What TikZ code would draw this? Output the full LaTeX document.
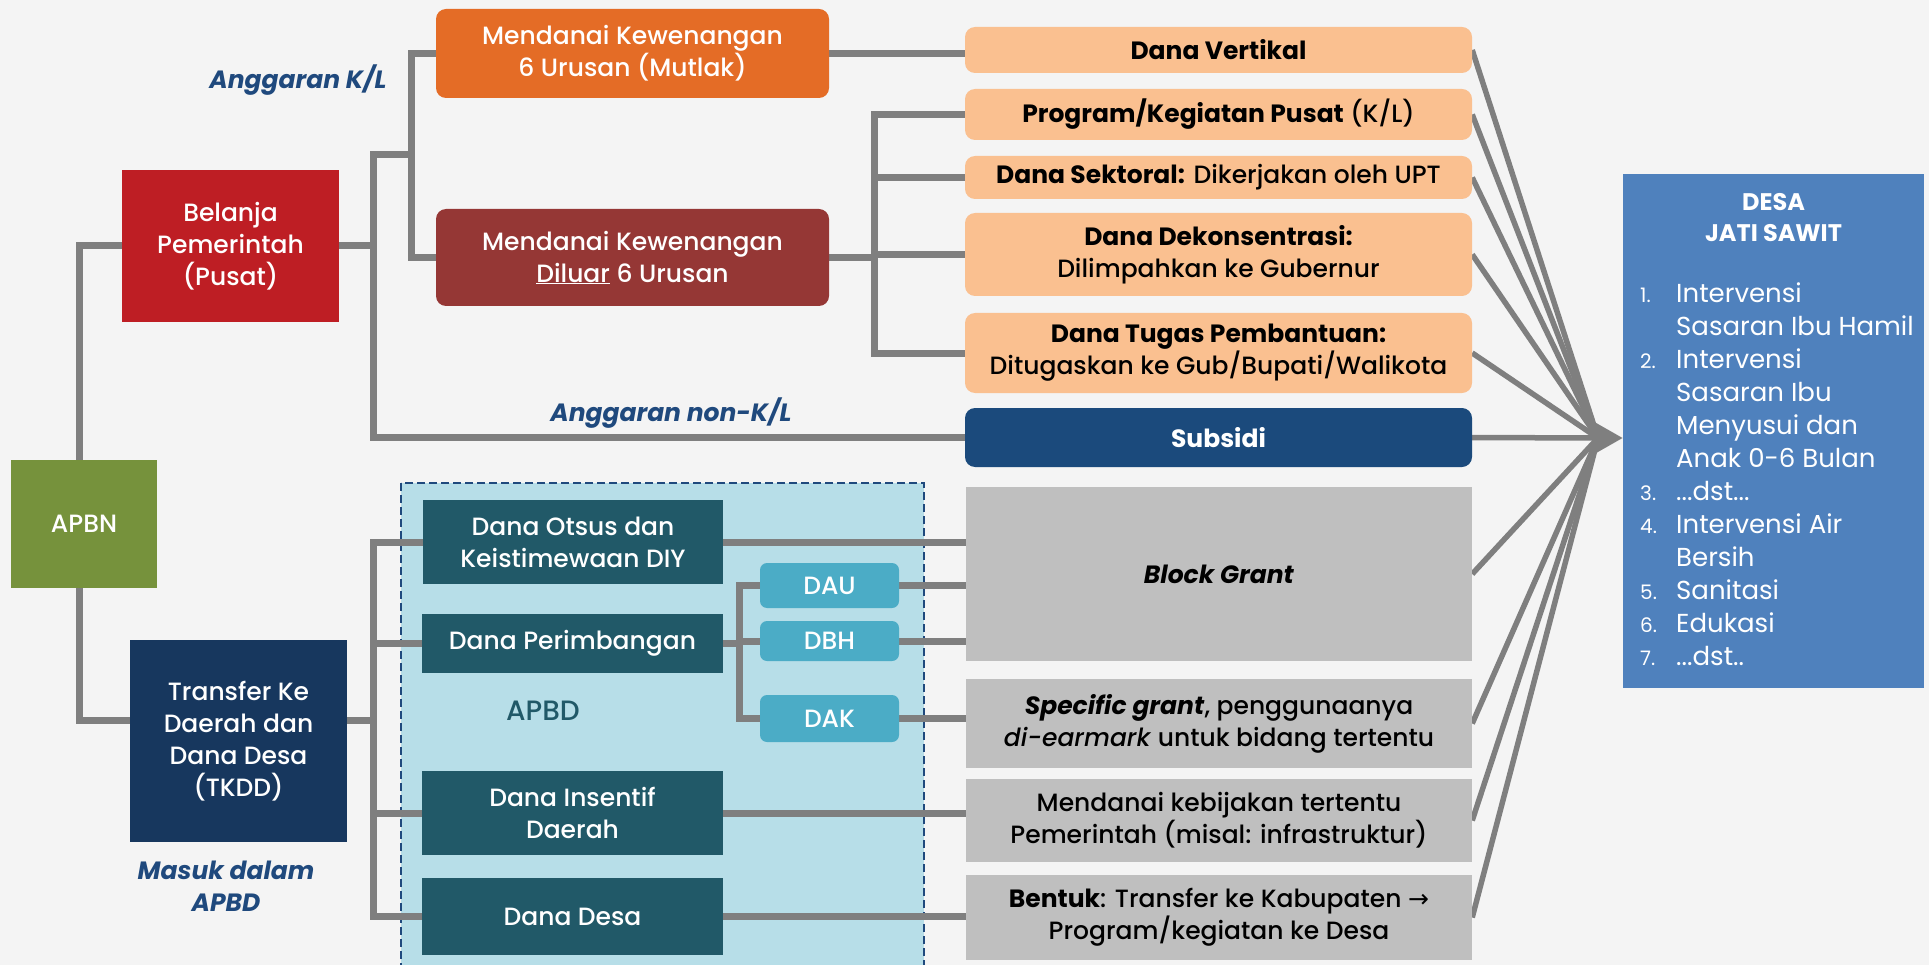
\documentclass[tikz,border=0pt]{standalone}
\usepackage{fontspec}
\setmainfont{Poppins}[UprightFont=* Medium, ItalicFont=* Medium Italic, BoldFont=* Bold, BoldItalicFont=* Bold Italic]
\newfontfamily\lightfont{Poppins}
\newfontfamily\symfont{DejaVu Sans}
\usetikzlibrary{arrows.meta}
\definecolor{cbg}{HTML}{F4F4F4}
\definecolor{cgreen}{HTML}{76923C}
\definecolor{cred}{HTML}{BE1E24}
\definecolor{cnavy}{HTML}{17375E}
\definecolor{corange}{HTML}{E46C26}
\definecolor{cbrick}{HTML}{953735}
\definecolor{cpeach}{HTML}{FAC090}
\definecolor{csub}{HTML}{1B4A7C}
\definecolor{cgray}{HTML}{BFBFBF}
\definecolor{cdesa}{HTML}{4F81BD}
\definecolor{cregion}{HTML}{B7DEE8}
\definecolor{cteal}{HTML}{215968}
\definecolor{ccyan}{HTML}{4BACC6}
\definecolor{cline}{HTML}{7F7F7F}
\definecolor{clabel}{HTML}{1F497D}
\newcommand\boxfont{\fontsize{25}{32}\selectfont}
\newcommand\listfont{\lightfont\fontsize{26}{33}\selectfont}
\pgfdeclarelayer{back}
\pgfdeclarelayer{edges}
\pgfsetlayers{back,edges,main}
\begin{document}
\begin{tikzpicture}[x=1pt,y=-1pt,
  box/.style={draw=none, align=center, inner sep=0pt, font=\boxfont},
  dark/.style={box, text=white},
  rbox/.style={box, rounded corners=10pt},
  tree/.style={draw=cline, line width=7pt, line cap=rect, line join=miter},
  conv/.style={draw=cline, line width=5.5pt},
  lbl/.style={font=\fontsize{25}{32}\selectfont\bfseries\itshape, text=clabel, align=center, inner sep=0pt}]
\useasboundingbox (0,0) rectangle (1929,965);
\begin{pgfonlayer}{back}
  \fill[cbg] (0,0) rectangle (1929,965);
  \draw[fill=cregion, draw=clabel, line width=1.5pt, dash pattern=on 8pt off 4pt] (401,483) rectangle (924,980);
\end{pgfonlayer}
% left column
\node[dark, fill=cgreen, minimum width=146pt, minimum height=128pt] (apbn) at (84,524) {APBN};
\node[dark, fill=cred, minimum width=217pt, minimum height=152pt] (belanja) at (230.5,246) {Belanja\\Pemerintah\\(Pusat)};
\node[dark, fill=cnavy, minimum width=217pt, minimum height=202pt] (tkdd) at (238.5,741) {Transfer Ke\\Daerah dan\\Dana Desa\\(TKDD)};
\node[lbl] (lblkl) at (298,80) {Anggaran K/L};
\node[lbl] (lblnkl) at (671,413) {Anggaran non-K/L};
\node[lbl] (lblmasuk) at (226,886) {Masuk dalam\\APBD};
% upper middle
\node[dark, rbox, fill=corange, minimum width=393pt, minimum height=89pt] (mutlak) at (632.5,53.5) {Mendanai Kewenangan\\6 Urusan (Mutlak)};
\node[dark, rbox, fill=cbrick, minimum width=393pt, minimum height=97pt] (diluar) at (632.5,257.5) {Mendanai Kewenangan\\\underline{Diluar} 6 Urusan};
% peach column
\node[box, rbox, fill=cpeach, minimum width=507pt, minimum height=46pt] (vert) at (1218.5,50) {\textbf{Dana Vertikal}};
\node[box, rbox, fill=cpeach, minimum width=507pt, minimum height=51pt] (prog) at (1218.5,114.5) {\textbf{Program/Kegiatan Pusat} (K/L)};
\node[box, rbox, fill=cpeach, minimum width=507pt, minimum height=43pt] (sekt) at (1218.5,177.5) {\textbf{Dana Sektoral:} Dikerjakan oleh UPT};
\node[box, rbox, fill=cpeach, minimum width=507pt, minimum height=83pt] (dekon) at (1218.5,254.5) {\textbf{Dana Dekonsentrasi:}\\Dilimpahkan ke Gubernur};
\node[box, rbox, fill=cpeach, minimum width=507pt, minimum height=80pt] (tugas) at (1218.5,353) {\textbf{Dana Tugas Pembantuan:}\\Ditugaskan ke Gub/Bupati/Walikota};
\node[dark, rbox, fill=csub, minimum width=507pt, minimum height=59pt] (subsidi) at (1218.5,437.5) {\textbf{Subsidi}};
% gray column
\node[box, fill=cgray, minimum width=506pt, minimum height=174pt] (block) at (1219,574) {\textbf{\textit{Block Grant}}};
\node[box, fill=cgray, minimum width=506pt, minimum height=89pt] (spec) at (1219,723.5) {\textbf{\textit{Specific grant}}, penggunaanya\\\textit{di-earmark} untuk bidang tertentu};
\node[box, fill=cgray, minimum width=506pt, minimum height=83pt] (kebij) at (1219,820.5) {Mendanai kebijakan tertentu\\Pemerintah (misal: infrastruktur)};
\node[box, fill=cgray, minimum width=506pt, minimum height=85pt] (bentuk) at (1219,917.5) {\textbf{Bentuk}: Transfer ke Kabupaten {\symfont →}\\Program/kegiatan ke Desa};
% APBD region
\node[dark, fill=cteal, minimum width=300pt, minimum height=84pt] (otsus) at (573,542) {Dana Otsus dan\\Keistimewaan DIY};
\node[dark, fill=cteal, minimum width=301pt, minimum height=59pt] (perim) at (572.5,643.5) {Dana Perimbangan};
\node[dark, fill=cteal, minimum width=301pt, minimum height=84pt] (insent) at (572.5,813) {Dana Insentif\\Daerah};
\node[dark, fill=cteal, minimum width=301pt, minimum height=77pt] (ddesa) at (572.5,916.5) {Dana Desa};
\node[box, text=cteal, font=\fontsize{28}{32}\selectfont] (apbd) at (543,711) {APBD};
\node[dark, rbox, rounded corners=7pt, fill=ccyan, minimum width=139pt, minimum height=45pt] (dau) at (829.5,585.5) {DAU};
\node[dark, rbox, rounded corners=7pt, fill=ccyan, minimum width=139pt, minimum height=40pt] (dbh) at (829.5,641) {DBH};
\node[dark, rbox, rounded corners=7pt, fill=ccyan, minimum width=139pt, minimum height=47pt] (dak) at (829.5,718.5) {DAK};
% DESA
\node[box, fill=cdesa, minimum width=301pt, minimum height=514pt] (desa) at (1773.5,431) {};
\node[box, text=white, font=\fontsize{24}{31}\selectfont\bfseries] (desatitle) at (1773.5,218) {DESA\\JATI SAWIT};
\node[anchor=north west, align=left, inner sep=0pt, text=white, font=\listfont] (desalist) at (1640,283)
 {\makebox[36pt][l]{\fontsize{20}{33}\selectfont 1.}Intervensi\\
  \hspace*{36pt}Sasaran Ibu Hamil\\
  \makebox[36pt][l]{\fontsize{20}{33}\selectfont 2.}Intervensi\\
  \hspace*{36pt}Sasaran Ibu\\
  \hspace*{36pt}Menyusui dan\\
  \hspace*{36pt}Anak 0-6 Bulan\\
  \makebox[36pt][l]{\fontsize{20}{33}\selectfont 3.}...dst...\\
  \makebox[36pt][l]{\fontsize{20}{33}\selectfont 4.}Intervensi Air\\
  \hspace*{36pt}Bersih\\
  \makebox[36pt][l]{\fontsize{20}{33}\selectfont 5.}Sanitasi\\
  \makebox[36pt][l]{\fontsize{20}{33}\selectfont 6.}Edukasi\\
  \makebox[36pt][l]{\fontsize{20}{33}\selectfont 7.}...dst..};
% coordinates
\coordinate (bTop) at (373,155);
\coordinate (bMid) at (373,246);
\coordinate (bBot) at (373,437.5);
\coordinate (kl) at (411,155);
\coordinate (dTop) at (874,114.5);
\coordinate (dBot) at (874,353);
\coordinate (tMid) at (373,720);
\coordinate (tTop) at (373,542);
\coordinate (tBot) at (373,916.5);
\coordinate (pTop) at (739,585.5);
\coordinate (pBot) at (739,718.5);
\coordinate (conv) at (1598,438);
\begin{pgfonlayer}{edges}
  \draw[tree] ([xshift=-5pt]apbn.north) |- (belanja.west);
  \draw[tree] ([xshift=-5pt]apbn.south) |- (tMid -| tkdd.west);
  \draw[tree] (belanja.east) -- (bMid);
  \draw[tree] (bTop) -- (bBot) -- (subsidi.west);
  \draw[tree] (bTop) -- (kl);
  \draw[tree] (mutlak.west) -| (kl) |- (diluar.west);
  \draw[tree] (mutlak.east) -- (mutlak.east -| vert.west);
  \draw[tree] (diluar.east) -- (diluar.east -| dTop);
  \draw[tree] (prog.west) -- (dTop) -- (dBot) -- (tugas.west);
  \draw[tree] (sekt.west) -- (sekt.west -| dTop);
  \draw[tree] (dekon.west) -- (dekon.west -| dTop);
  \draw[tree] (tkdd.east |- tMid) -- (tMid);
  \draw[tree] (otsus.west) -- (tTop) -- (tBot) -- (ddesa.west);
  \draw[tree] (perim.west) -- (perim.west -| tTop);
  \draw[tree] (insent.west) -- (insent.west -| tTop);
  \draw[tree] (perim.east) -- (perim.east -| pTop);
  \draw[tree] (dau.west) -- (pTop) -- (pBot) -- (dak.west);
  \draw[tree] (dbh.west) -- (dbh.west -| pTop);
  \draw[tree] (otsus.east) -- (otsus.east -| block.west);
  \draw[tree] (dau.east) -- (dau.east -| block.west);
  \draw[tree] (dbh.east) -- (dbh.east -| block.west);
  \draw[tree] (dak.east) -- (dak.east -| spec.west);
  \draw[tree] (insent.east) -- (insent.east -| kebij.west);
  \draw[tree] (ddesa.east) -- (ddesa.east -| bentuk.west);
  \foreach \n in {vert,prog,sekt,dekon,tugas,subsidi,block,spec,kebij,bentuk}
    \draw[conv] (\n.east) -- (conv);
  \draw[conv, -{Triangle[length=28pt,width=30pt]}] (conv) -- (conv -| desa.west);
\end{pgfonlayer}
\end{tikzpicture}
\end{document}
